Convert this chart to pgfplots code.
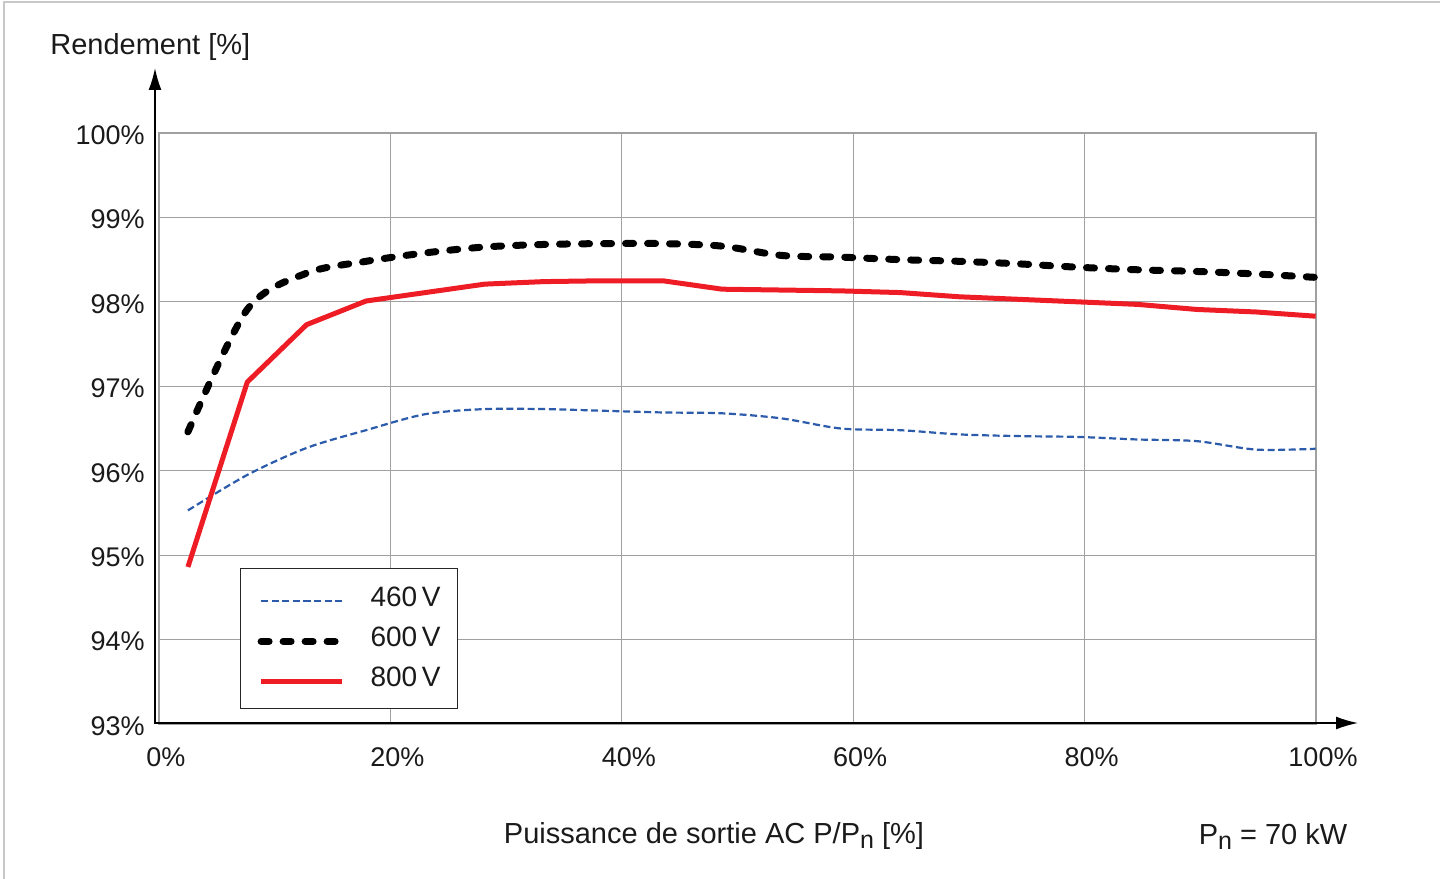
\documentclass[border=0pt]{standalone}
\usepackage{fontspec}
\setmainfont{Liberation Sans}
\usepackage{pgfplots}
\pgfplotsset{compat=1.18}
\usetikzlibrary{arrows.meta}
\definecolor{cblue}{HTML}{2B5BAA}
\definecolor{cred}{HTML}{EE1C25}
\definecolor{cgrid}{HTML}{A0A0A0}
\definecolor{cframe}{HTML}{C8C8C8}
\definecolor{ctext}{HTML}{1A1A1A}
\begin{document}
\begin{tikzpicture}
\path[use as bounding box] (-79.5pt,-77pt) rectangle (640.5pt,362pt);
\draw[cframe, line width=0.8pt] (-77.5pt,-80pt) -- (-77.5pt,361pt) -- (645pt,361pt);
\begin{axis}[
  at={(0pt,0pt)}, anchor=south west,
  scale only axis, width=578.5pt, height=295.5pt,
  xmin=0, xmax=100, ymin=93, ymax=100,
  xtick={0,20,...,100}, xticklabels={0\%,20\%,40\%,60\%,80\%,100\%},
  ytick={93,94,...,100}, yticklabels={93\%,94\%,95\%,96\%,97\%,98\%,99\%,100\%},
  grid=major, major grid style={cgrid, line width=0.6pt},
  axis line style={cgrid, line width=0.6pt},
  tick style={draw=none},
  ticklabel style={font=\fontsize{13.5}{16}\selectfont, text=ctext},
  xticklabel style={anchor=north, inner sep=0pt, yshift=-11.5pt, xshift=3.5pt},
  yticklabel style={anchor=east, inner sep=0pt, xshift=-7pt, yshift=-1pt},
  clip=false,
  legend cell align=left,
  legend style={at={(0.070,0.0254)}, anchor=south west, draw=black!85, line width=0.6pt,
    inner xsep=8.5pt, inner ysep=5pt, font=\fontsize{14}{16}\selectfont,
    nodes={inner sep=0pt, minimum height=20pt, text=ctext},
    /tikz/every odd column/.style={column sep=12.5pt}},
  legend image code/.code={\draw[#1] (0pt,-1.5pt) -- (40.5pt,-1.5pt);},
]
\addplot[cblue, line width=1.1pt, dash pattern=on 3.5pt off 1.8pt, smooth, tension=0.5] coordinates {
(2.5,95.53) (7.63,95.95) (12.76,96.27) (17.89,96.48) (23.02,96.67) (28.15,96.73) (33.28,96.73)
(38.41,96.71) (43.54,96.69) (48.67,96.68) (53.8,96.62) (58.93,96.50) (64.06,96.48) (69.19,96.43)
(74.32,96.41) (79.45,96.40) (84.58,96.37) (89.71,96.35) (94.84,96.25) (99.97,96.26)};
\addlegendentry{460\,V}
\addplot[black, line width=3.5pt, line cap=round, dash pattern=on 4pt off 7pt, smooth, tension=0.5] coordinates {
(2.5,96.46) (7.63,97.91) (12.76,98.34) (17.89,98.48) (23.02,98.58) (28.15,98.65) (33.28,98.68)
(38.41,98.69) (43.54,98.69) (48.67,98.66) (53.8,98.55) (58.93,98.53) (64.06,98.50) (69.19,98.48)
(74.32,98.45) (79.45,98.41) (84.58,98.38) (89.71,98.36) (94.84,98.33) (99.97,98.29)};
\addlegendentry{600\,V}
\addplot[cred, line width=2.5pt, line join=round] coordinates {
(2.5,94.86) (7.63,97.05) (12.76,97.73) (17.89,98.01) (23.02,98.11) (28.15,98.21) (33.28,98.24)
(38.41,98.25) (43.54,98.25) (48.67,98.15) (53.8,98.14) (58.93,98.13) (64.06,98.11) (69.19,98.06)
(74.32,98.03) (79.45,98.00) (84.58,97.97) (89.71,97.91) (94.84,97.88) (99.97,97.83)};
\addlegendentry{800\,V}
\end{axis}
\draw[black, line width=0.8pt, -{Latex[length=11pt,width=6.5pt]}] (-2pt,0pt) -- (-2pt,328pt);
\draw[black, line width=0.8pt, -{Latex[length=11pt,width=6.5pt]}] (-2pt,0.5pt) -- (599.5pt,0.5pt);
\node[anchor=west, font=\fontsize{14.5}{17}\selectfont, text=ctext, inner sep=0pt] at (-54.5pt,338.5pt) {Rendement [\%]};
\node[font=\fontsize{14.5}{17}\selectfont, text=ctext] at (277.5pt,-56pt) {Puissance de sortie AC P/P\raisebox{-2.5pt}{\fontsize{12.5}{14}\selectfont n} [\%]};
\node[font=\fontsize{14.5}{17}\selectfont, text=ctext] at (557pt,-56pt) {P\raisebox{-2.5pt}{\fontsize{12.5}{14}\selectfont n} = 70 kW};
\end{tikzpicture}
\end{document}
